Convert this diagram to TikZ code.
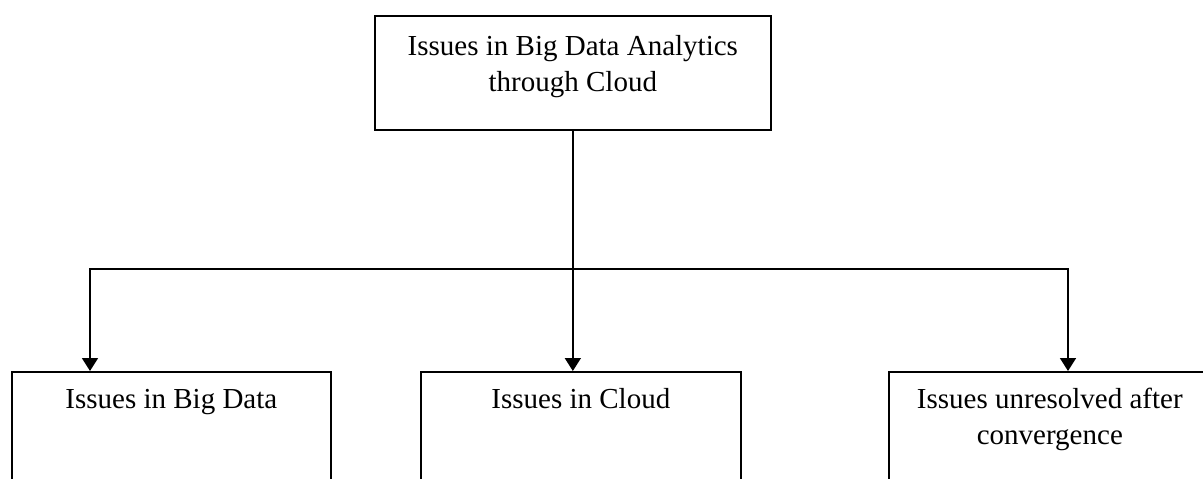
\documentclass[tikz,border=0pt]{standalone}
\usepackage{fontspec}
\setmainfont{Liberation Serif}
\usetikzlibrary{arrows.meta,calc}
\begin{document}
\begin{tikzpicture}[x=1pt,y=-1pt,
  box/.style={draw, line width=1.7pt, inner sep=0pt, anchor=north west},
  lbl/.style={anchor=north, inner sep=0pt, align=center, font=\fontsize{29}{36}\selectfont},
  conn/.style={line width=1.7pt},
  arr/.style={conn, -{Triangle[width=16pt,length=13pt]}}]
\useasboundingbox (0,0) rectangle (1203,479);
\node[box, minimum width=396pt, minimum height=114pt] (top) at (374,15) {};
\node[box, minimum width=319pt, minimum height=140pt] (L) at (11,371) {};
\node[box, minimum width=320pt, minimum height=140pt] (M) at (420,371) {};
\node[box, minimum width=322pt, minimum height=140pt] (R) at (888,371) {};
\node[lbl] (toptxt) at ([yshift=-15pt]top.north) {\strut Issues in Big Data Analytics\\through Cloud};
\node[lbl] (Ltxt) at ([yshift=-12.5pt]L.north) {\strut Issues in Big Data};
\node[lbl] (Mtxt) at ([yshift=-12.5pt]M.north) {\strut Issues in Cloud};
\node[lbl] (Rtxt) at ([yshift=-12.5pt]R.north) {\strut Issues unresolved after\\convergence};
\coordinate (j) at (572,269);
\coordinate (tL) at ([xshift=79pt]L.north west);
\coordinate (tR) at ([xshift=180pt]R.north west);
\draw[arr] (top.south) -- (top.south |- M.north);
\draw[arr] (j) -| (tL);
\draw[arr] (j) -| (tR);
\end{tikzpicture}
\end{document}
